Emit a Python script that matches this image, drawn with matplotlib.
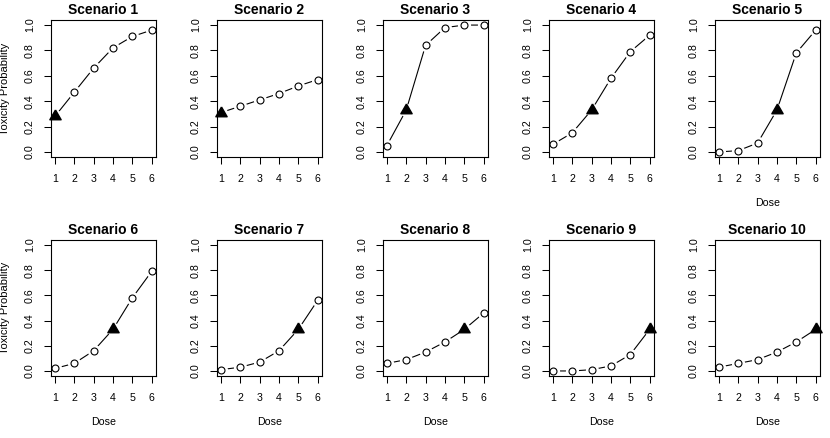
import numpy as np
import matplotlib
matplotlib.use("Agg")
import matplotlib.pyplot as plt

plt.rcParams['font.family'] = ['Liberation Sans', 'DejaVu Sans']

doses = [1, 2, 3, 4, 5, 6]
titles = ["Scenario %d" % i for i in range(1, 11)]
tox = [
    [0.28, 0.47, 0.66, 0.82, 0.91, 0.96],
    [0.31, 0.36, 0.41, 0.46, 0.52, 0.57],
    [0.05, 0.33, 0.84, 0.98, 1.00, 1.00],
    [0.06, 0.15, 0.33, 0.58, 0.79, 0.92],
    [0.00, 0.01, 0.07, 0.33, 0.78, 0.96],
    [0.02, 0.06, 0.16, 0.33, 0.58, 0.79],
    [0.01, 0.03, 0.07, 0.16, 0.33, 0.56],
    [0.06, 0.09, 0.15, 0.23, 0.33, 0.46],
    [0.00, 0.00, 0.01, 0.04, 0.13, 0.33],
    [0.03, 0.06, 0.09, 0.15, 0.23, 0.33],
]
mtd = [1, 1, 2, 3, 4, 4, 5, 5, 6, 6]   # dose level marked with the triangle

W, H = 830, 438
fig = plt.figure(figsize=(W / 100, H / 100), dpi=100)

lefts = [51, 217, 383, 549, 715]
rows = [(20, 157), (240, 376)]
tri = [(0, 1), (-0.866, -0.5), (0.866, -0.5), (0, 1)]

for k in range(10):
    r, c = divmod(k, 5)
    top, bot = rows[r]
    ax = fig.add_axes([lefts[c] / W, 1 - bot / H, 104.5 / W, (bot - top) / H])
    y = np.array(tox[k])
    x = np.array(doses)
    ax.plot(x, y, color='black', lw=0.8, zorder=2)
    # white discs give the gaps of R's type="b"
    ax.plot(x, y, 'o', ms=9.5, mfc='white', mec='none', zorder=2.1)
    open_pts = x != mtd[k]
    ax.plot(x[open_pts], y[open_pts], 'o', ms=5, mfc='none', mec='black',
            mew=0.8, zorder=3, clip_on=False)
    ax.plot(x[~open_pts], y[~open_pts], marker=tri, ms=9.4, color='black',
            ls='none', zorder=3, clip_on=False)

    ax.set_xlim(0.8, 6.2)
    ax.set_ylim(-0.04, 1.04)
    ax.set_xticks(doses)
    ax.set_yticks([0, 0.2, 0.4, 0.6, 0.8, 1.0])
    ax.set_yticklabels(["0.0", "0.2", "0.4", "0.6", "0.8", "1.0"])
    ax.tick_params(length=5, width=0.75, labelsize=7.7, color='black')
    ax.tick_params(axis='x', pad=7.5)
    ax.tick_params(axis='y', pad=6.5, labelrotation=90)
    for lab in ax.get_yticklabels():
        lab.set_va('center')
    for s in ax.spines.values():
        s.set_linewidth(0.8)
    ax.set_title(titles[k], fontsize=10, fontweight='bold', pad=4)
    if c == 0:
        ax.set_ylabel("Toxicity Probability", fontsize=8, labelpad=10.5)
    if r == 1 or c == 4:
        ax.set_xlabel("Dose", fontsize=7.7, labelpad=9.5)

fig.savefig("out.png", dpi=100)
